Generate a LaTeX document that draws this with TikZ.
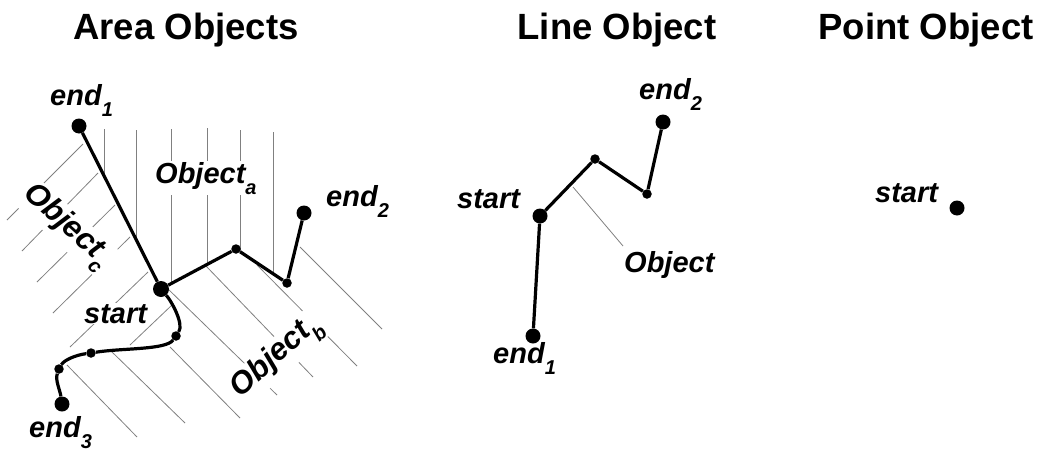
\documentclass[tikz,border=0pt]{standalone}
\usepackage{fontspec}
\setmainfont{Liberation Sans}
\newcommand{\sbx}[1]{\raisebox{-11pt}{\fontsize{20}{20}\selectfont #1}}
\begin{document}
\begin{tikzpicture}[x=1pt,y=-1pt,
  bigdot/.style={circle,fill=black,inner sep=0pt,minimum size=15pt},
  smalldot/.style={circle,fill=black,inner sep=0pt,minimum size=9.5pt},
  edge/.style={line width=3.2pt,line join=round},
  hatch/.style={draw=black!50,line width=0.8pt},
  lbl/.style={font=\bfseries\itshape\fontsize{29}{29}\selectfont,inner sep=1pt,anchor=base west},
  wlbl/.style={lbl,fill=white},
  rlbl/.style={wlbl,anchor=center,font=\bfseries\itshape\fontsize{31}{31}\selectfont},
  ttl/.style={font=\bfseries\fontsize{36.5}{36.5}\selectfont,anchor=base,inner sep=0pt}]
\useasboundingbox (0,0) rectangle (1042,450);

% titles
\node[ttl] (t1) at (186,39) {Area Objects};
\node[ttl] (t2) at (617,39) {Line Object};
\node[ttl] (t3) at (926,39) {Point Object};

% ---------- Area objects: hatching ----------
% Object_a (vertical)
\draw[hatch] (104,129) -- (104,176);
\draw[hatch] (136,130) -- (136,239);
\draw[hatch] (171,129) -- (171,284);
\draw[hatch] (207,128) -- (207,265);
\draw[hatch] (240,130) -- (240,252);
\draw[hatch] (273,132) -- (273,274);
% Object_c (up-right)
\draw[hatch] (7,220) -- (83,144);
\draw[hatch] (22,251) -- (98,173);
\draw[hatch] (37,282) -- (115,205);
\draw[hatch] (53,313) -- (130,237);
\draw[hatch] (70,347) -- (148,272);
\draw[hatch] (130,345) -- (172,305);
% Object_b (down-right)
\draw[hatch] (300,247) -- (382,329);
\draw[hatch] (257,265) -- (357,366);
\draw[hatch] (206,266) -- (313,377);
\draw[hatch] (167,288) -- (277,395);
\draw[hatch] (170,347) -- (240,418);
\draw[hatch] (112,352) -- (185,423);
\draw[hatch] (67,365) -- (137,437);

% labels in the area part
\node[wlbl] (la) at (154,183) {Object\sbx{a}};
\node[rlbl,rotate=-42] (lc) at (66,227) {Object\sbx{c}};
\node[rlbl,rotate=42] (lb) at (277,358) {Object\sbx{b}};
\node[wlbl] (lst) at (83,323) {start};
\node[lbl] (le1) at (49,105) {end\sbx{1}};
\node[lbl] (le2) at (325,206) {end\sbx{2}};
\node[lbl] (le3) at (28,437) {end\sbx{3}};

% area nodes
\node[bigdot] (ae1) at (79,126) {};
\node[bigdot,minimum size=16pt] (as) at (161,289) {};
\node[smalldot] (aa) at (236,249) {};
\node[smalldot] (ab) at (287,283) {};
\node[bigdot] (ae2) at (304,213) {};
\node[smalldot] (ac) at (176,336) {};
\node[smalldot] (ad) at (91,353) {};
\node[smalldot] (ae) at (59,369) {};
\node[bigdot] (ae3) at (62,404) {};

\draw[edge] (ae1) -- (as);
\draw[edge] (as) -- (aa) -- (ab) -- (ae2);
\draw[edge] (as) .. controls (172,302) and (184,324) .. (ac);
\draw[edge] (ac) .. controls (166,350) and (122,348) .. (ad);
\draw[edge] (ad) .. controls (76,355) and (64,360) .. (ae);
\draw[edge] (ae) .. controls (55,380) and (60,390) .. (ae3);

% ---------- Line object ----------
\node[bigdot] (ls) at (540,216) {};
\node[smalldot] (lv1) at (595,159) {};
\node[smalldot] (lv2) at (647,194) {};
\node[bigdot] (le2d) at (663,122) {};
\node[bigdot] (le1d) at (533,336) {};
\draw[edge] (le1d) -- (ls) -- (lv1) -- (lv2) -- (le2d);
\coordinate (lk1) at (573,187);
\coordinate (lk2) at (623,246);
\draw[hatch] (lk1) -- (lk2);
\node[lbl] (lls) at (456,208) {start};
\node[lbl] (llo) at (623,272) {Object};
\node[lbl] (lle1) at (492,363) {end\sbx{1}};
\node[lbl] (lle2) at (638,99) {end\sbx{2}};

% ---------- Point object ----------
\node[bigdot] (ps) at (957,208) {};
\node[lbl] (pls) at (874,202) {start};
\end{tikzpicture}
\end{document}
